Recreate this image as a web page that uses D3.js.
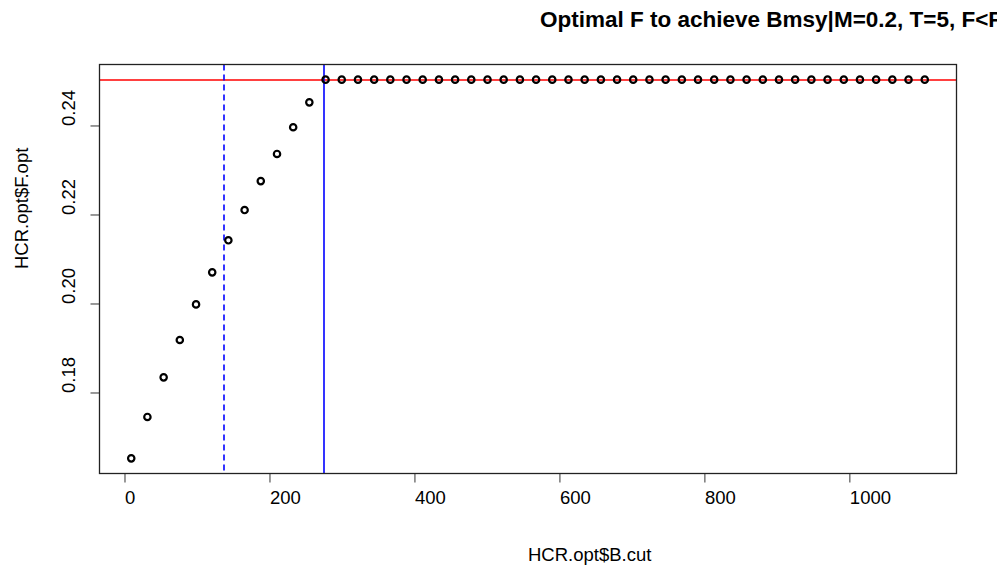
<!DOCTYPE html>
<html>
<head>
<meta charset="utf-8">
<script src="https://cdn.jsdelivr.net/npm/d3@7"></script>
<style>
body { margin: 0; background: #fff; }
text { font-family: "Liberation Sans", Arial, sans-serif; }
</style>
</head>
<body>
<div id="graph"></div>
<script>
// B.cut values along the x axis
var bCut = [9.3, 31.6, 54.0, 76.3, 98.7, 121.0, 143.3, 165.7, 188.0, 210.4,
	232.7, 255.0, 277.4, 299.7, 322.1, 344.4, 366.7, 389.1, 411.4, 433.8,
	456.1, 478.4, 500.8, 523.1, 545.5, 567.8, 590.1, 612.5, 634.8, 657.2,
	679.5, 701.8, 724.2, 746.5, 768.9, 791.2, 813.5, 835.9, 858.2, 880.6,
	902.9, 925.2, 947.6, 969.9, 992.3, 1014.6, 1036.9, 1059.3, 1081.6, 1104.0];

// optimal F for each B.cut
var fOpt = [0.1652, 0.1745, 0.1834, 0.1918, 0.1998, 0.2070, 0.2142, 0.2210,
	0.2275, 0.2336, 0.2396, 0.2452, 0.2503, 0.2503, 0.2503, 0.2503, 0.2503,
	0.2503, 0.2503, 0.2503, 0.2503, 0.2503, 0.2503, 0.2503, 0.2503, 0.2503,
	0.2503, 0.2503, 0.2503, 0.2503, 0.2503, 0.2503, 0.2503, 0.2503, 0.2503,
	0.2503, 0.2503, 0.2503, 0.2503, 0.2503, 0.2503, 0.2503, 0.2503, 0.2503,
	0.2503, 0.2503, 0.2503, 0.2503, 0.2503, 0.2503];

var fMax = 0.2503;          // red horizontal line
var bMsy = 275.4;           // solid blue line
var bHalf = 136.8;          // dashed blue line

var xTicks = [0, 200, 400, 600, 800, 1000];
var yTicks = [0.18, 0.20, 0.22, 0.24];

var titleText = "Optimal F to achieve Bmsy|M=0.2, T=5, F<Fmax";
var xLabel = "HCR.opt$B.cut";
var yLabel = "HCR.opt$F.opt";

var width = 997, height = 571;
var plotLeft = 99.5, plotRight = 956.5, plotTop = 64.5, plotBottom = 473.5;

// R style 4% padding on the data range
function pad(ext) {
	var d = (ext[1] - ext[0]) * 0.04;
	return [ext[0] - d, ext[1] + d];
}

var xScale = d3.scaleLinear()
	.domain(pad(d3.extent(bCut)))
	.range([plotLeft, plotRight]);
var yScale = d3.scaleLinear()
	.domain(pad(d3.extent(fOpt)))
	.range([plotBottom, plotTop]);

var svg = d3.select("#graph").append("svg")
	.attr("width", width)
	.attr("height", height);

svg.append("defs").append("clipPath")
	.attr("id", "plotclip")
	.append("rect")
	.attr("x", plotLeft).attr("y", plotTop)
	.attr("width", plotRight - plotLeft).attr("height", plotBottom - plotTop);

var xAxis = d3.axisBottom(xScale)
	.tickValues(xTicks)
	.tickSize(9)
	.tickSizeOuter(0)
	.tickFormat(d3.format("d"));

var yAxis = d3.axisLeft(yScale)
	.tickValues(yTicks)
	.tickSize(9)
	.tickSizeOuter(0)
	.tickFormat(d3.format(".2f"));

var gx = svg.append("g")
	.attr("transform", "translate(0," + plotBottom + ")")
	.call(xAxis);
gx.select(".domain").remove();
gx.selectAll(".tick line").attr("stroke", "#333");
gx.selectAll(".tick text")
	.attr("y", 0)
	.attr("dy", null)
	.attr("transform", "translate(0,30)")
	.attr("text-anchor", "start")
	.attr("font-size", "18.5px")
	.attr("fill", "#000")
	.attr("font-family", "Liberation Sans, Arial, sans-serif");

var gy = svg.append("g")
	.attr("transform", "translate(" + plotLeft + ",0)")
	.call(yAxis);
gy.select(".domain").remove();
gy.selectAll(".tick line").attr("stroke", "#333");
gy.selectAll(".tick text")
	.attr("x", null)
	.attr("dy", null)
	.attr("transform", "translate(-25,0) rotate(-90)")
	.attr("text-anchor", "start")
	.attr("font-size", "18.5px")
	.attr("fill", "#000")
	.attr("font-family", "Liberation Sans, Arial, sans-serif");

var plot = svg.append("g").attr("clip-path", "url(#plotclip)");

// reference lines: red at F max, blue at Bmsy and dashed blue at half of it
plot.append("line")
	.attr("x1", plotLeft).attr("x2", plotRight)
	.attr("y1", Math.round(yScale(fMax))).attr("y2", Math.round(yScale(fMax)))
	.attr("stroke", "#ff0000")
	.attr("stroke-width", 1.6);

plot.append("line")
	.attr("x1", Math.round(xScale(bMsy))).attr("x2", Math.round(xScale(bMsy)))
	.attr("y1", plotTop).attr("y2", plotBottom)
	.attr("stroke", "#0000ff")
	.attr("stroke-width", 1.6);

plot.append("line")
	.attr("x1", Math.round(xScale(bHalf))).attr("x2", Math.round(xScale(bHalf)))
	.attr("y1", plotTop).attr("y2", plotBottom)
	.attr("stroke", "#0000ff")
	.attr("stroke-width", 1.6)
	.attr("stroke-dasharray", "6,4");

plot.selectAll("circle")
	.data(bCut)
	.enter().append("circle")
	.attr("cx", function (d) { return xScale(d); })
	.attr("cy", function (d, i) { return yScale(fOpt[i]); })
	.attr("r", 3.2)
	.attr("fill", "none")
	.attr("stroke", "#000")
	.attr("stroke-width", 2.2);

svg.append("rect")
	.attr("x", plotLeft).attr("y", plotTop)
	.attr("width", plotRight - plotLeft).attr("height", plotBottom - plotTop)
	.attr("fill", "none")
	.attr("stroke", "#222")
	.attr("stroke-width", 1.3);

svg.append("text")
	.attr("x", 540).attr("y", 27)
	.attr("font-size", "22.5px")
	.attr("font-weight", "bold")
	.text(titleText);

svg.append("text")
	.attr("x", (plotLeft + plotRight) / 2).attr("y", 561)
	.attr("font-size", "18.5px")
	.text(xLabel);

svg.append("text")
	.attr("transform", "translate(28," + (plotTop + plotBottom) / 2 + ") rotate(-90)")
	.attr("font-size", "18.5px")
	.text(yLabel);
</script>
</body>
</html>
